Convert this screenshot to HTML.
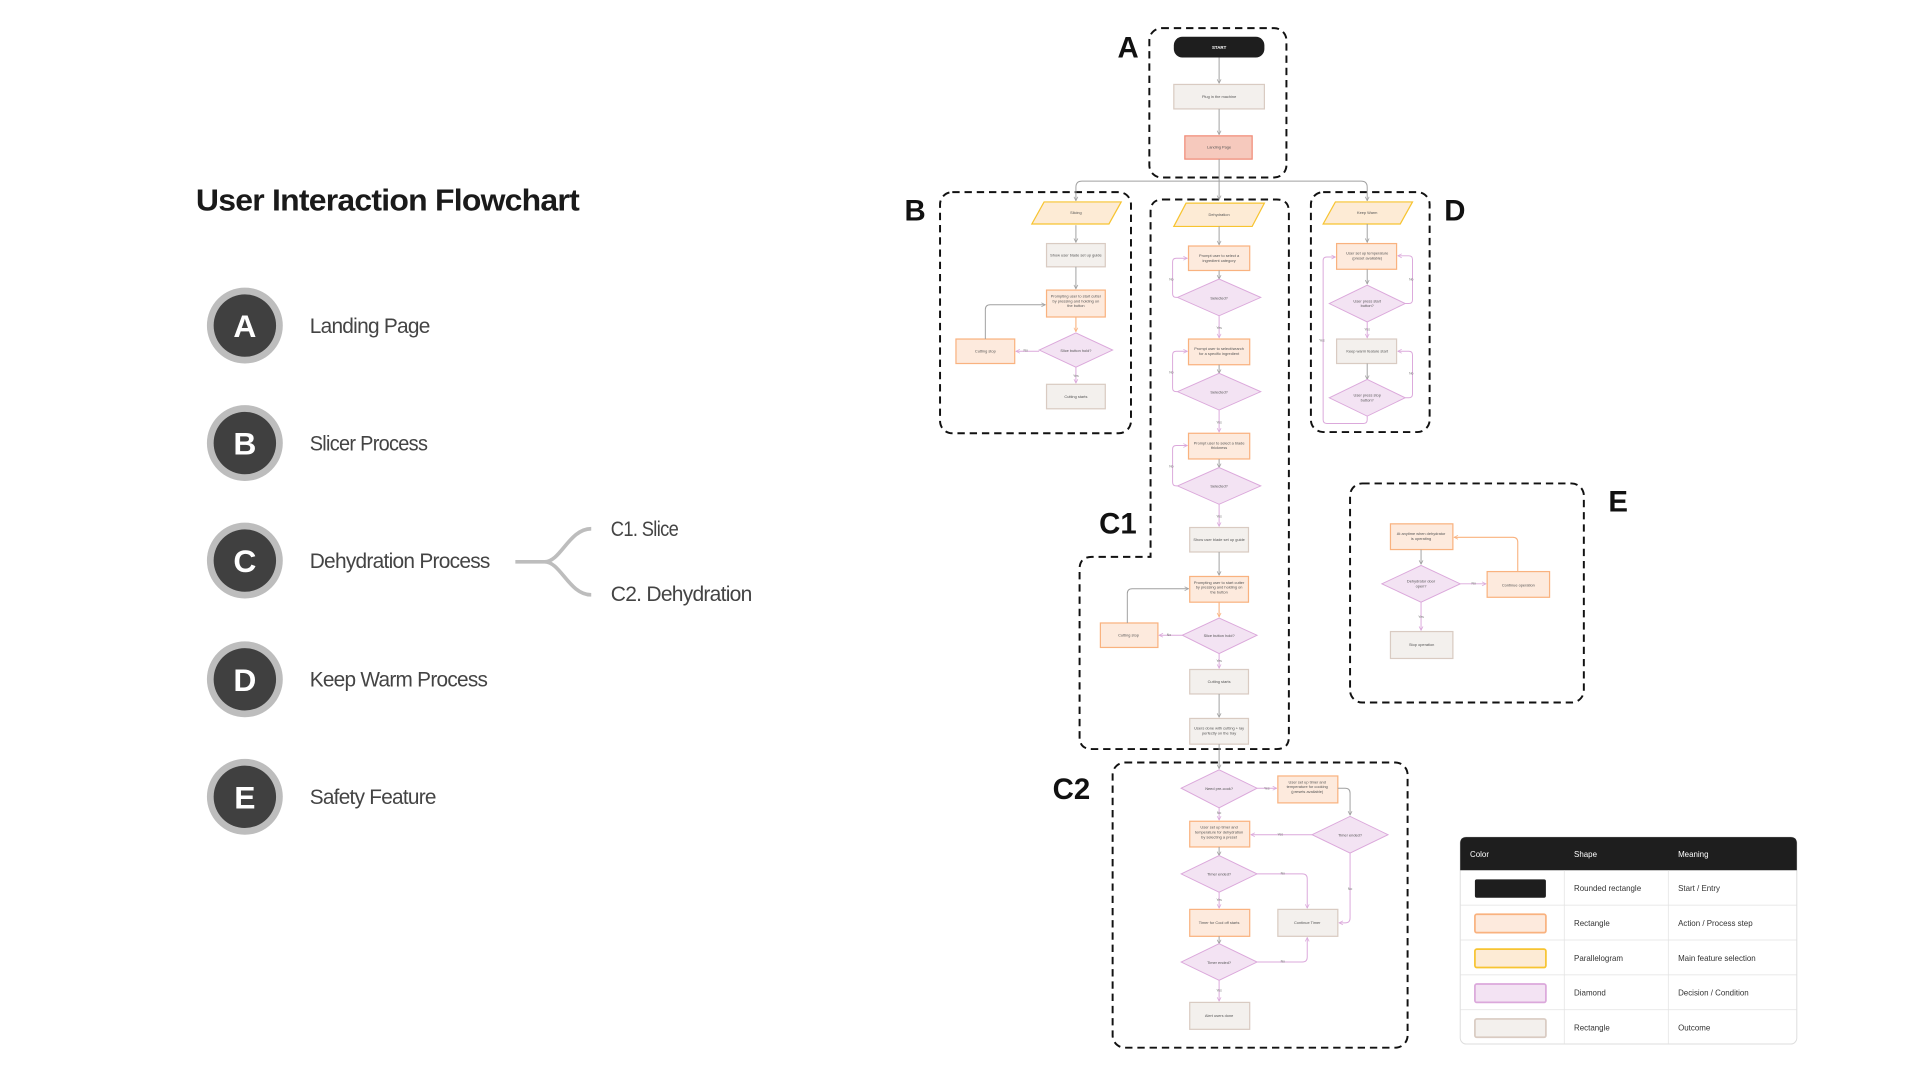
<!DOCTYPE html>
<html><head><meta charset="utf-8"><style>
html,body{margin:0;padding:0;background:#fff;width:1920px;height:1080px;overflow:hidden}
svg{display:block}
text{font-family:"Liberation Sans",sans-serif}
.t{font-size:3.2px;fill:#555;text-anchor:middle}
.l{font-size:2.8px;fill:#777;text-anchor:middle}
.box{fill:none;stroke:#111;stroke-width:1.6;stroke-dasharray:6 4}
.act{fill:#fdeadd;stroke:#f9b27f;stroke-width:1}
.par{fill:#fdebd5;stroke:#f7c431;stroke-width:1}
.dia{fill:#f3e3f3;stroke:#dba8db;stroke-width:0.8}
.out{fill:#f3f0ed;stroke:#d9cbc2;stroke-width:1}
.g{fill:none;stroke:#a0a0a0;stroke-width:0.8}
.p{fill:none;stroke:#dba8db;stroke-width:0.8}
.o{fill:none;stroke:#f9b27f;stroke-width:0.9}
.big{font-size:24px;font-weight:bold;fill:#111}
.lab{font-size:17px;fill:#444;letter-spacing:-0.6px}
.cl{font-size:26px;font-weight:bold;fill:#fff;text-anchor:middle}
.lg{font-size:6.5px;fill:#333}
.lh{font-size:6.5px;fill:#fff}
</style></head><body>
<svg width="1920" height="1080" viewBox="0 0 1568.6 882.4" xmlns="http://www.w3.org/2000/svg">
<defs>
<marker id="mg" viewBox="0 0 10 10" refX="9" refY="5" markerWidth="4" markerHeight="4" orient="auto" markerUnits="userSpaceOnUse"><path d="M1 1L9 5L1 9" fill="none" stroke="#a0a0a0" stroke-width="1.5"/></marker>
<marker id="mp" viewBox="0 0 10 10" refX="9" refY="5" markerWidth="4" markerHeight="4" orient="auto" markerUnits="userSpaceOnUse"><path d="M1 1L9 5L1 9" fill="none" stroke="#dba8db" stroke-width="1.5"/></marker>
<marker id="mo" viewBox="0 0 10 10" refX="9" refY="5" markerWidth="4" markerHeight="4" orient="auto" markerUnits="userSpaceOnUse"><path d="M1 1L9 5L1 9" fill="none" stroke="#f9b27f" stroke-width="1.5"/></marker>
</defs>

<!-- LEFT PANEL -->
<text x="160" y="172" font-size="25" font-weight="bold" fill="#1a1a1a" letter-spacing="-0.6" textLength="313" lengthAdjust="spacingAndGlyphs">User Interaction Flowchart</text>
<g>
<circle cx="200" cy="266" r="31" fill="#bdbdbd"/><circle cx="200" cy="266" r="25.5" fill="#404040"/><text class="cl" x="200" y="275.5">A</text>
<circle cx="200" cy="362" r="31" fill="#bdbdbd"/><circle cx="200" cy="362" r="25.5" fill="#404040"/><text class="cl" x="200" y="371.5">B</text>
<circle cx="200" cy="458" r="31" fill="#bdbdbd"/><circle cx="200" cy="458" r="25.5" fill="#404040"/><text class="cl" x="200" y="467.5">C</text>
<circle cx="200" cy="555" r="31" fill="#bdbdbd"/><circle cx="200" cy="555" r="25.5" fill="#404040"/><text class="cl" x="200" y="564.5">D</text>
<circle cx="200" cy="651" r="31" fill="#bdbdbd"/><circle cx="200" cy="651" r="25.5" fill="#404040"/><text class="cl" x="200" y="660.5">E</text>
</g>
<text class="lab" x="253" y="272" textLength="98" lengthAdjust="spacingAndGlyphs">Landing Page</text>
<text class="lab" x="253" y="368" textLength="96" lengthAdjust="spacingAndGlyphs">Slicer Process</text>
<text class="lab" x="253" y="464" textLength="147" lengthAdjust="spacingAndGlyphs">Dehydration Process</text>
<text class="lab" x="253" y="561" textLength="145" lengthAdjust="spacingAndGlyphs">Keep Warm Process</text>
<text class="lab" x="253" y="657" textLength="103" lengthAdjust="spacingAndGlyphs">Safety Feature</text>
<text class="lab" x="499" y="438" textLength="55" lengthAdjust="spacingAndGlyphs">C1. Slice</text>
<text class="lab" x="499" y="491" textLength="115" lengthAdjust="spacingAndGlyphs">C2. Dehydration</text>
<path d="M421 459H445C458 459 465 432 483 432M445 459C458 459 465 486 483 486" fill="none" stroke="#bdbdbd" stroke-width="3"/>

<!-- BIG LABELS -->
<text class="big" x="913" y="47">A</text>
<text class="big" x="739" y="180">B</text>
<text class="big" x="1180" y="180">D</text>
<text class="big" x="898" y="436">C1</text>
<text class="big" x="860" y="653">C2</text>
<text class="big" x="1314" y="418">E</text>

<!-- DASHED BOXES -->
<rect class="box" x="939" y="23" width="112" height="122" rx="10"/>
<rect class="box" x="768" y="157" width="156" height="197" rx="10"/>
<rect class="box" x="1071" y="157" width="97" height="196" rx="10"/>
<path class="box" d="M950 163H1043Q1053 163 1053 173V602Q1053 612 1043 612H892Q882 612 882 602V465Q882 455 892 455H940V173Q940 163 950 163Z"/>
<rect class="box" x="909" y="623" width="241" height="233" rx="10"/>
<rect class="box" x="1103" y="395" width="191" height="179" rx="10"/>

<!-- A -->
<rect x="959" y="30" width="74" height="17" rx="7" fill="#1e1e1e"/>
<text x="996" y="40" font-size="3.6" font-weight="bold" fill="#fff" text-anchor="middle">START</text>
<path class="g" d="M996 47V68" marker-end="url(#mg)"/>
<rect class="out" x="959" y="69" width="74" height="20"/>
<text class="t" x="996" y="80">Plug in the machine</text>
<path class="g" d="M996 89V110" marker-end="url(#mg)"/>
<rect x="968" y="111" width="55" height="19" fill="#f6c9bd" stroke="#f08a76" stroke-width="1"/>
<text class="t" x="996" y="121.5">Landing Page</text>
<path class="g" d="M996 130V163" marker-end="url(#mg)"/>
<path class="g" d="M996 148H884Q879 148 879 153V164" marker-end="url(#mg)"/>
<path class="g" d="M996 148H1112Q1117 148 1117 153V164" marker-end="url(#mg)"/>

<!-- B -->
<polygon class="par" points="853,165 916,165 906,183 843,183"/>
<text class="t" x="879" y="175">Slicing</text>
<path class="g" d="M879 184V198" marker-end="url(#mg)"/>
<rect class="out" x="855" y="199" width="48" height="19"/>
<text class="t" x="879" y="209.5">Show user blade set up guide</text>
<path class="g" d="M879 218V236" marker-end="url(#mg)"/>
<rect class="act" x="855" y="237" width="48" height="22"/>
<text class="t" x="879" y="243"><tspan x="879">Prompting user to start cutter</tspan><tspan x="879" dy="4">by pressing and holding on</tspan><tspan x="879" dy="4">the button</tspan></text>
<path class="o" d="M879 259V271" marker-end="url(#mo)"/>
<polygon class="dia" points="849,286 879,272 909,286 879,300"/>
<text class="t" x="879" y="287.5">Slice button hold?</text>
<path class="p" d="M849 287H830" marker-end="url(#mp)"/>
<text class="l" x="838" y="287">No</text>
<rect class="act" x="781" y="277" width="48" height="20"/>
<text class="t" x="805" y="288">Cutting stop</text>
<path class="g" d="M805 277V253Q805 249 809 249H854" marker-end="url(#mg)"/>
<path class="p" d="M879 300V313" marker-end="url(#mp)"/>
<text class="l" x="879" y="308">Yes</text>
<rect class="out" x="855" y="314" width="48" height="20"/>
<text class="t" x="879" y="325">Cutting starts</text>

<!-- C1 -->
<polygon class="par" points="969,166 1033,166 1023,185 959,185"/>
<text class="t" x="996" y="176.5">Dehydration</text>
<path class="g" d="M996 185V200" marker-end="url(#mg)"/>
<rect class="act" x="971" y="201" width="50" height="20"/>
<text class="t" x="996" y="210"><tspan x="996">Prompt user to select a</tspan><tspan x="996" dy="4">ingredient category</tspan></text>
<path class="g" d="M996 221V228" marker-end="url(#mg)"/>
<polygon class="dia" points="962,243 996,228 1030,243 996,258"/>
<text class="t" x="996" y="244.5">Selected?</text>
<path class="p" d="M962 243H961Q958 243 958 240V214Q958 211 961 211H970" marker-end="url(#mp)"/>
<text class="l" x="957" y="229">No</text>
<path class="p" d="M996 258V276" marker-end="url(#mp)"/>
<text class="l" x="996" y="269">Yes</text>

<rect class="act" x="971" y="277" width="50" height="21"/>
<text class="t" x="996" y="286"><tspan x="996">Prompt user to select/search</tspan><tspan x="996" dy="4">for a specific ingredient</tspan></text>
<path class="g" d="M996 298V305" marker-end="url(#mg)"/>
<polygon class="dia" points="962,320 996,305 1030,320 996,335"/>
<text class="t" x="996" y="321.5">Selected?</text>
<path class="p" d="M962 320H961Q958 320 958 317V290Q958 287 961 287H970" marker-end="url(#mp)"/>
<text class="l" x="957" y="305">No</text>
<path class="p" d="M996 335V353" marker-end="url(#mp)"/>
<text class="l" x="996" y="346">Yes</text>

<rect class="act" x="971" y="354" width="50" height="21"/>
<text class="t" x="996" y="363"><tspan x="996">Prompt user to select a blade</tspan><tspan x="996" dy="4">thickness</tspan></text>
<path class="g" d="M996 375V382" marker-end="url(#mg)"/>
<polygon class="dia" points="962,397 996,382 1030,397 996,412"/>
<text class="t" x="996" y="398.5">Selected?</text>
<path class="p" d="M962 397H961Q958 397 958 394V367Q958 364 961 364H970" marker-end="url(#mp)"/>
<text class="l" x="957" y="382">No</text>
<path class="p" d="M996 412V430" marker-end="url(#mp)"/>
<text class="l" x="996" y="423">Yes</text>

<rect class="out" x="972" y="431" width="48" height="20"/>
<text class="t" x="996" y="442">Show user blade set up guide</text>
<path class="g" d="M996 451V470" marker-end="url(#mg)"/>
<rect class="act" x="972" y="471" width="48" height="21"/>
<text class="t" x="996" y="477"><tspan x="996">Prompting user to start cutter</tspan><tspan x="996" dy="4">by pressing and holding on</tspan><tspan x="996" dy="4">the button</tspan></text>
<path class="o" d="M996 492V504" marker-end="url(#mo)"/>
<polygon class="dia" points="966,519 996,505 1027,519 996,534"/>
<text class="t" x="996" y="520.5">Slice button hold?</text>
<path class="p" d="M966 519H947" marker-end="url(#mp)"/>
<text class="l" x="955" y="519.5">No</text>
<rect class="act" x="899" y="509" width="47" height="20"/>
<text class="t" x="922" y="520">Cutting stop</text>
<path class="g" d="M921 509V485Q921 481 925 481H971" marker-end="url(#mg)"/>
<path class="p" d="M996 534V546" marker-end="url(#mp)"/>
<text class="l" x="996" y="541">Yes</text>
<rect class="out" x="972" y="547" width="48" height="20"/>
<text class="t" x="996" y="558">Cutting starts</text>
<path class="g" d="M996 567V586" marker-end="url(#mg)"/>
<rect class="out" x="972" y="587" width="48" height="21"/>
<text class="t" x="996" y="596"><tspan x="996">Users done with cutting + lay</tspan><tspan x="996" dy="4">perfectly on the tray</tspan></text>
<path class="g" d="M996 608V628" marker-end="url(#mg)"/>

<!-- C2 -->
<polygon class="dia" points="965,644 996,629 1027,644 996,660"/>
<text class="t" x="996" y="645.5">Need pre-cook?</text>
<path class="p" d="M1027 644H1043" marker-end="url(#mp)"/>
<text class="l" x="1035" y="645">Yes</text>
<rect class="act" x="1044" y="634" width="49" height="22"/>
<text class="t" x="1068" y="640"><tspan x="1068">User set up timer and</tspan><tspan x="1068" dy="4">temperature for cooking</tspan><tspan x="1068" dy="4">(presets available)</tspan></text>
<path class="g" d="M1093 644H1099Q1103 644 1103 648V666" marker-end="url(#mg)"/>
<polygon class="dia" points="1072,682 1103,667 1134,682 1103,697"/>
<text class="t" x="1103" y="683.5">Timer ended?</text>
<path class="p" d="M1072 682H1022" marker-end="url(#mp)"/>
<text class="l" x="1046" y="682.5">Yes</text>
<path class="p" d="M996 660V670" marker-end="url(#mp)"/>
<text class="l" x="996" y="665">No</text>
<rect class="act" x="972" y="671" width="49" height="21"/>
<text class="t" x="996" y="677"><tspan x="996">User set up timer and</tspan><tspan x="996" dy="4">temperature for dehydration</tspan><tspan x="996" dy="4">by selecting a preset</tspan></text>
<path class="g" d="M996 692V699" marker-end="url(#mg)"/>
<polygon class="dia" points="965,714 996,699 1027,714 996,729"/>
<text class="t" x="996" y="715.5">Timer ended?</text>
<path class="p" d="M1027 714H1064Q1068 714 1068 718V742" marker-end="url(#mp)"/>
<text class="l" x="1048" y="714.5">No</text>
<path class="p" d="M1103 697V750Q1103 754 1099 754H1094" marker-end="url(#mp)"/>
<text class="l" x="1103" y="727">No</text>
<rect class="out" x="1044" y="743" width="49" height="22"/>
<text class="t" x="1068" y="755">Continue Timer</text>
<path class="p" d="M996 729V742" marker-end="url(#mp)"/>
<text class="l" x="996" y="736">Yes</text>
<rect class="act" x="972" y="743" width="49" height="22"/>
<text class="t" x="996" y="755">Timer for Cool off starts</text>
<path class="g" d="M996 765V771" marker-end="url(#mg)"/>
<polygon class="dia" points="965,786 996,771 1027,786 996,801"/>
<text class="t" x="996" y="787.5">Timer ended?</text>
<path class="p" d="M1027 786H1064Q1068 786 1068 782V766" marker-end="url(#mp)"/>
<text class="l" x="1048" y="786.5">No</text>
<path class="p" d="M996 801V818" marker-end="url(#mp)"/>
<text class="l" x="996" y="810">Yes</text>
<rect class="out" x="972" y="819" width="49" height="22"/>
<text class="t" x="996" y="831">Alert users done</text>

<!-- D -->
<polygon class="par" points="1091,165 1154,165 1144,183 1081,183"/>
<text class="t" x="1117" y="175">Keep Warm</text>
<path class="g" d="M1117 183V198" marker-end="url(#mg)"/>
<rect class="act" x="1092" y="199" width="49" height="21"/>
<text class="t" x="1117" y="208"><tspan x="1117">User set up temperature</tspan><tspan x="1117" dy="4">(preset available)</tspan></text>
<path class="g" d="M1117 220V232" marker-end="url(#mg)"/>
<polygon class="dia" points="1086,248 1117,233 1148,248 1117,263"/>
<text class="t" x="1117" y="247"><tspan x="1117">User press start</tspan><tspan x="1117" dy="4">button?</tspan></text>
<path class="p" d="M1148 248H1151Q1154 248 1154 245V212Q1154 209 1151 209H1142" marker-end="url(#mp)"/>
<text class="l" x="1153" y="229">No</text>
<path class="p" d="M1117 263V276" marker-end="url(#mp)"/>
<text class="l" x="1117" y="270">Yes</text>
<rect class="out" x="1092" y="277" width="49" height="20"/>
<text class="t" x="1117" y="288">Keep warm feature start</text>
<path class="g" d="M1117 297V310" marker-end="url(#mg)"/>
<polygon class="dia" points="1086,325 1117,310 1148,325 1117,340"/>
<text class="t" x="1117" y="324"><tspan x="1117">User press stop</tspan><tspan x="1117" dy="4">button?</tspan></text>
<path class="p" d="M1148 325H1151Q1154 325 1154 322V290Q1154 287 1151 287H1142" marker-end="url(#mp)"/>
<text class="l" x="1153" y="306">No</text>
<path class="p" d="M1117 340V343Q1117 346 1114 346H1084Q1081 346 1081 343V213Q1081 210 1084 210H1091" marker-end="url(#mp)"/>
<text class="l" x="1080" y="279">Yes</text>

<!-- E -->
<rect class="act" x="1136" y="428" width="51" height="21"/>
<text class="t" x="1161" y="437"><tspan x="1161">At anytime when dehydrator</tspan><tspan x="1161" dy="4">is operating</tspan></text>
<path class="g" d="M1161 449V461" marker-end="url(#mg)"/>
<polygon class="dia" points="1129,477 1161,462 1193,477 1161,492"/>
<text class="t" x="1161" y="476"><tspan x="1161">Dehydrator door</tspan><tspan x="1161" dy="4">open?</tspan></text>
<path class="p" d="M1193 477H1214" marker-end="url(#mp)"/>
<text class="l" x="1204" y="477.5">No</text>
<rect class="act" x="1215" y="467" width="51" height="21"/>
<text class="t" x="1240.5" y="479">Continue operation</text>
<path class="o" d="M1240 467V443Q1240 439 1236 439H1188" marker-end="url(#mo)"/>
<path class="p" d="M1161 492V515" marker-end="url(#mp)"/>
<text class="l" x="1161" y="505">Yes</text>
<rect class="out" x="1136" y="516" width="51" height="22"/>
<text class="t" x="1161.5" y="528">Stop operation</text>

<!-- LEGEND -->
<rect x="1193" y="684" width="275" height="169" rx="5" fill="#fff" stroke="#ddd" stroke-width="0.8"/>
<path d="M1193 711V689Q1193 684 1198 684H1463Q1468 684 1468 689V711Z" fill="#1e1e1e"/>
<text class="lh" x="1201" y="700">Color</text>
<text class="lh" x="1286" y="700">Shape</text>
<text class="lh" x="1371" y="700">Meaning</text>
<g stroke="#e2e2e2" stroke-width="0.6">
<path d="M1193 739.5H1468M1193 768H1468M1193 796.5H1468M1193 825H1468M1278 711V853M1363 711V853"/>
</g>
<rect x="1205" y="718.5" width="58" height="15" rx="1.5" fill="#1e1e1e"/>
<rect x="1205" y="747" width="58" height="15" rx="1.5" fill="#fdeadd" stroke="#f9b27f" stroke-width="1.4"/>
<rect x="1205" y="775.5" width="58" height="15" rx="1.5" fill="#fdebd5" stroke="#f7c431" stroke-width="1.4"/>
<rect x="1205" y="804" width="58" height="15" rx="1.5" fill="#f3e3f3" stroke="#dba8db" stroke-width="1.4"/>
<rect x="1205" y="832.5" width="58" height="15" rx="1.5" fill="#f3f0ed" stroke="#d9cbc2" stroke-width="1.4"/>
<text class="lg" x="1286" y="728">Rounded rectangle</text><text class="lg" x="1371" y="728">Start / Entry</text>
<text class="lg" x="1286" y="756.5">Rectangle</text><text class="lg" x="1371" y="756.5">Action / Process step</text>
<text class="lg" x="1286" y="785">Parallelogram</text><text class="lg" x="1371" y="785">Main feature selection</text>
<text class="lg" x="1286" y="813.5">Diamond</text><text class="lg" x="1371" y="813.5">Decision / Condition</text>
<text class="lg" x="1286" y="842">Rectangle</text><text class="lg" x="1371" y="842">Outcome</text>
</svg>
</body></html>
